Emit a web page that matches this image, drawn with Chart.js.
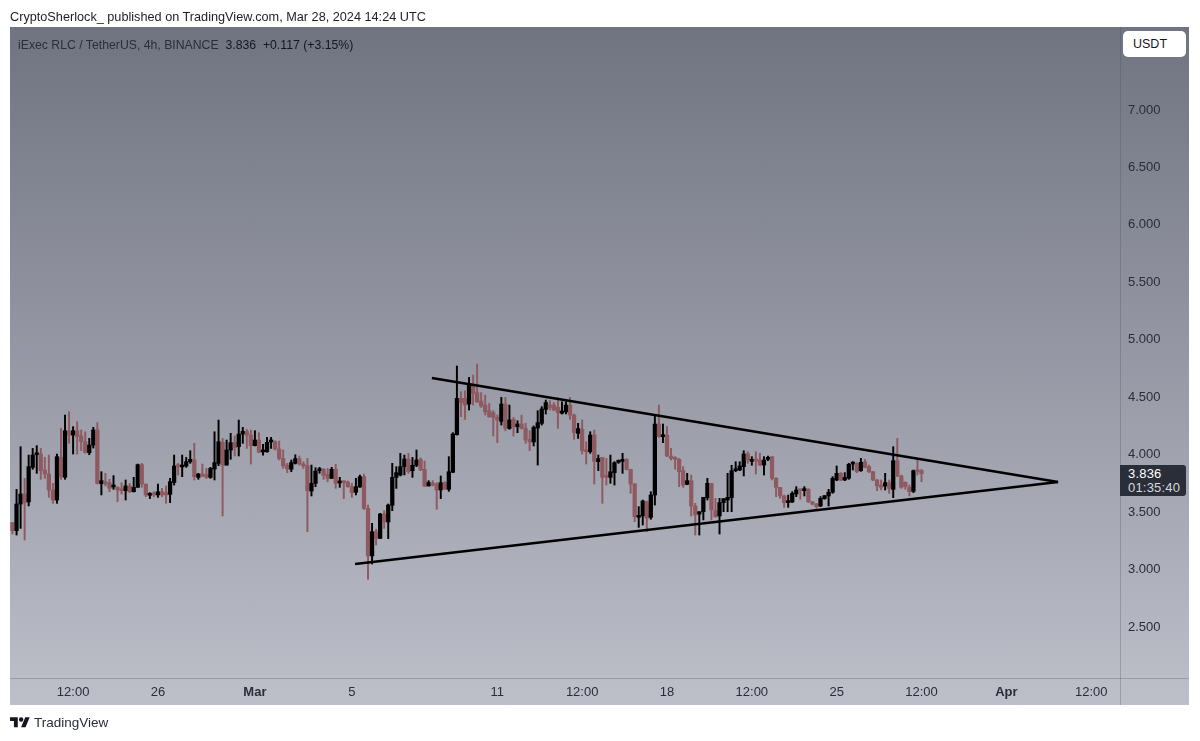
<!DOCTYPE html>
<html>
<head>
<meta charset="utf-8">
<title>iExec RLC / TetherUS</title>
<script src="https://cdn.jsdelivr.net/npm/chart.js@4/dist/chart.umd.min.js"></script>
<style>
  html, body { margin: 0; padding: 0; background: #fff; overflow: hidden; }
  body { width: 1200px; height: 741px; position: relative; font-family: "Liberation Sans", Arial, sans-serif; color: #131722; }
  #panel { position: absolute; left: 10px; top: 27px; width: 1179px; height: 678px;
           background: linear-gradient(to bottom, rgb(112,116,129), rgb(189,191,201)); }
  #hsep { position: absolute; left: 10px; top: 678px; width: 1179px; height: 1px; background: rgba(70,74,90,0.28); }
  #vsep { position: absolute; left: 1120px; top: 27px; width: 1px; height: 678px; background: rgba(70,74,90,0.28); }
  #chart { position: absolute; left: 0; top: 0; }
  .txt { position: absolute; white-space: pre; }
  #published { left: 10px; top: 10px; font-size: 12.7px; color: #1c1e24; }
  #legend { left: 18px; top: 38px; font-size: 12.25px; color: #2a2e39; }
  #legend b { font-weight: normal; color: #131722; }
  #unit { position: absolute; left: 1123px; top: 31px; width: 63px; height: 26px; line-height: 26px; background: #fff;
          border-radius: 5px; font-size: 12.5px; box-sizing: border-box; padding-left: 10px; color: #131722; }
  #last { position: absolute; left: 1120px; top: 465px; width: 66px; height: 31px; background: #2a2e39; border-radius: 0 3px 3px 0;
          font-size: 13px; line-height: 13.5px; letter-spacing: 0.2px; color: #fff; box-sizing: border-box; padding: 2px 0 0 8px; }
  #last span { color: #d6d8de; }
  #logo { position: absolute; left: 10px; top: 715px; width: 20px; height: 15.5px; }
  #brand { left: 34px; top: 715px; font-size: 13.5px; color: #2a2e39; }
</style>
</head>
<body>
<div id="panel"></div>
<div id="hsep"></div>
<div id="vsep"></div>
<canvas id="chart" width="1200" height="741"></canvas>
<div class="txt" id="published">CryptoSherlock_ published on TradingView.com, Mar 28, 2024 14:24 UTC</div>
<div class="txt" id="legend">iExec RLC / TetherUS, 4h, BINANCE  <b>3.836  +0.117 (+3.15%)</b></div>
<div id="unit">USDT</div>
<div id="last">3.836<br><span>01:35:40</span></div>
<svg id="logo" viewBox="0 0 36 28"><path fill="#131722" d="M14 22H7V11H0V4h14v18zM28 22h-8l7.5-18h8L28 22z"/><circle fill="#131722" cx="20" cy="8" r="4"/></svg>
<div class="txt" id="brand">TradingView</div>

<script>
// 4h candles
const opens = [
  3.409,3.339,3.571,3.658,3.589,3.890,4.000,4.006,3.867,3.832,
  3.693,3.606,3.977,3.803,4.206,4.171,4.209,4.163,4.113,4.018,
  4.084,4.215,3.748,3.765,3.757,3.719,3.716,3.693,3.687,3.728,
  3.678,3.716,3.913,3.745,3.647,3.664,3.650,3.678,3.670,3.655,
  3.757,3.910,3.893,3.902,3.939,3.954,3.803,3.832,3.829,3.803,
  3.876,3.925,4.108,3.910,4.041,4.105,4.070,4.180,4.203,4.171,
  4.079,4.128,4.024,4.026,4.111,4.113,4.050,3.966,3.910,3.873,
  3.925,3.966,3.919,3.905,3.684,3.751,3.861,3.873,3.832,3.794,
  3.873,3.754,3.763,3.763,3.722,3.673,3.719,3.809,3.533,3.119,
  3.330,3.272,3.484,3.415,3.560,3.803,3.824,3.896,3.960,3.861,
  3.908,3.960,3.873,3.728,3.751,3.745,3.693,3.760,3.699,3.847,
  4.174,4.490,4.490,4.441,4.615,4.540,4.467,4.432,4.383,4.366,
  4.325,4.290,4.441,4.229,4.308,4.244,4.267,4.229,4.134,4.111,
  4.232,4.273,4.395,4.432,4.432,4.412,4.360,4.372,4.432,4.345,
  4.186,4.221,4.041,4.026,4.171,3.939,3.977,3.809,3.803,3.844,
  3.934,3.942,3.960,3.873,3.745,3.455,3.467,3.591,3.455,3.649,
  4.267,4.157,4.171,3.989,3.977,3.960,3.861,3.742,3.774,3.554,
  3.484,3.504,3.626,3.751,3.513,3.467,3.583,3.606,3.626,3.861,
  3.867,3.896,4.006,3.942,3.954,3.954,3.910,3.960,3.983,3.795,
  3.716,3.641,3.583,3.589,3.658,3.693,3.687,3.699,3.591,3.571,
  3.554,3.618,3.641,3.673,3.780,3.838,3.780,3.795,3.919,3.925,
  3.861,3.939,3.896,3.852,3.780,3.736,3.728,3.757,3.699,3.948,
  3.815,3.760,3.716,3.681,3.861,3.861
];
const highs = [
  3.409,3.699,4.070,3.794,3.997,4.055,4.079,4.055,3.977,3.997,
  3.751,4.006,4.230,4.345,4.374,4.244,4.287,4.215,4.200,4.142,
  4.238,4.279,3.852,3.838,3.786,3.818,3.722,3.757,3.780,3.751,
  3.803,3.919,3.925,3.745,3.670,3.678,3.745,3.707,3.728,3.794,
  3.997,3.925,3.997,3.977,4.035,4.099,3.838,3.919,3.881,3.890,
  4.200,4.302,4.142,4.128,4.186,4.163,4.302,4.238,4.221,4.215,
  4.209,4.192,4.090,4.151,4.151,4.122,4.119,4.041,3.925,3.954,
  4.000,3.989,3.939,3.968,3.910,3.887,3.890,3.881,3.881,3.890,
  3.916,3.803,3.765,3.771,3.751,3.794,3.823,3.832,3.562,3.403,
  3.351,3.490,3.513,3.571,3.925,3.896,4.012,3.997,4.012,3.977,
  4.041,3.974,3.945,3.774,3.774,3.757,3.815,3.765,3.983,4.192,
  4.772,4.548,4.557,4.673,4.693,4.789,4.540,4.519,4.447,4.383,
  4.345,4.499,4.499,4.432,4.325,4.296,4.345,4.273,4.209,4.250,
  4.383,4.418,4.476,4.470,4.453,4.499,4.461,4.461,4.499,4.354,
  4.273,4.302,4.113,4.200,4.215,3.997,3.977,3.968,3.997,3.939,
  3.954,4.012,3.966,3.873,3.751,3.548,3.606,3.597,3.678,4.345,
  4.432,4.267,4.244,4.056,3.983,3.968,3.896,3.838,3.823,3.577,
  3.504,3.629,3.794,3.751,3.620,3.620,3.618,3.838,3.908,3.939,
  3.939,4.035,4.026,3.983,4.026,4.012,3.983,3.989,3.983,3.800,
  3.716,3.649,3.649,3.678,3.722,3.699,3.722,3.705,3.594,3.577,
  3.635,3.644,3.699,3.809,3.902,3.844,3.844,3.925,3.939,3.931,
  3.968,3.960,3.910,3.855,3.786,3.780,3.838,3.780,4.070,4.142,
  3.823,3.765,3.736,3.867,3.954,3.873
];
const lows = [
  3.310,3.301,3.359,3.258,3.554,3.873,3.838,3.786,3.794,3.629,
  3.577,3.577,3.786,3.786,4.099,4.006,4.006,4.035,4.012,4.000,
  4.058,3.745,3.650,3.728,3.678,3.699,3.591,3.658,3.606,3.670,
  3.676,3.716,3.716,3.635,3.618,3.635,3.629,3.635,3.577,3.583,
  3.736,3.823,3.809,3.890,3.925,3.780,3.786,3.809,3.794,3.794,
  3.780,3.905,3.467,3.908,3.960,3.989,3.989,4.099,4.055,3.919,
  4.076,4.018,3.997,4.021,4.055,4.041,3.954,3.881,3.844,3.852,
  3.919,3.910,3.881,3.330,3.641,3.722,3.838,3.786,3.765,3.792,
  3.707,3.716,3.618,3.716,3.629,3.650,3.716,3.525,2.916,3.049,
  3.214,3.270,3.359,3.270,3.513,3.707,3.815,3.824,3.838,3.803,
  3.896,3.861,3.722,3.728,3.728,3.525,3.618,3.699,3.681,3.844,
  4.171,4.331,4.308,4.389,4.432,4.453,4.412,4.345,4.325,4.163,
  4.105,4.258,4.209,4.221,4.163,4.192,4.224,4.099,4.035,4.076,
  3.910,4.258,4.354,4.389,4.383,4.229,4.354,4.354,4.308,4.134,
  4.142,4.006,3.919,4.012,3.745,3.861,3.577,3.736,3.751,3.736,
  3.925,3.838,3.867,3.664,3.417,3.368,3.388,3.330,3.438,3.562,
  4.151,4.105,3.983,3.954,3.873,3.722,3.716,3.739,3.467,3.301,
  3.301,3.432,3.606,3.432,3.455,3.310,3.504,3.504,3.504,3.852,
  3.861,3.815,3.925,3.908,3.832,3.905,3.823,3.948,3.780,3.635,
  3.620,3.542,3.542,3.583,3.635,3.612,3.641,3.583,3.562,3.533,
  3.548,3.612,3.554,3.664,3.774,3.774,3.774,3.786,3.867,3.844,
  3.855,3.887,3.844,3.774,3.687,3.693,3.693,3.664,3.626,3.809,
  3.707,3.699,3.641,3.670,3.824,3.765
];
const closes = [
  3.339,3.571,3.658,3.583,3.896,3.997,4.009,3.861,3.832,3.693,
  3.606,3.983,3.809,4.209,4.171,4.209,4.157,4.113,4.021,4.084,
  4.215,3.751,3.774,3.745,3.707,3.728,3.693,3.687,3.728,3.678,
  3.716,3.913,3.745,3.650,3.655,3.650,3.678,3.650,3.650,3.765,
  3.902,3.896,3.902,3.939,3.960,3.809,3.832,3.815,3.803,3.881,
  3.931,4.113,3.910,4.041,4.105,4.061,4.180,4.203,4.171,4.079,
  4.128,4.021,4.035,4.108,4.119,4.050,3.966,3.902,3.876,3.931,
  3.966,3.919,3.902,3.687,3.751,3.858,3.873,3.818,3.792,3.873,
  3.751,3.765,3.757,3.722,3.670,3.722,3.809,3.533,3.119,3.330,
  3.270,3.484,3.415,3.562,3.803,3.844,3.896,3.963,3.852,3.908,
  3.954,3.867,3.728,3.757,3.736,3.693,3.757,3.699,3.852,4.180,
  4.490,4.453,4.432,4.615,4.534,4.461,4.424,4.374,4.331,4.325,
  4.302,4.441,4.229,4.302,4.244,4.267,4.229,4.128,4.111,4.238,
  4.279,4.398,4.453,4.412,4.389,4.366,4.380,4.432,4.345,4.192,
  4.227,4.035,4.026,4.171,3.942,3.966,3.803,3.803,3.852,3.931,
  3.945,3.960,3.873,3.745,3.461,3.467,3.597,3.446,3.649,4.267,
  4.157,4.171,3.989,3.968,3.960,3.852,3.736,3.774,3.554,3.476,
  3.504,3.629,3.751,3.519,3.461,3.583,3.618,3.629,3.861,3.873,
  3.902,4.006,3.954,3.954,3.945,3.910,3.954,3.971,3.795,3.716,
  3.641,3.583,3.591,3.664,3.693,3.687,3.699,3.591,3.571,3.548,
  3.620,3.644,3.673,3.795,3.838,3.780,3.803,3.916,3.925,3.852,
  3.934,3.890,3.852,3.780,3.728,3.716,3.757,3.707,3.948,3.815,
  3.716,3.722,3.678,3.861,3.852,3.836
];

// time axis: candle number -> label
const timeTicks = [15, 36, 60, 84, 120, 141, 162, 183, 204, 225, 246, 267];
const timeLabels = ['12:00', '26', 'Mar', '5', '11', '12:00', '18', '12:00', '25', '12:00', 'Apr', '12:00'];
const priceTicks = [2.5, 3.0, 3.5, 4.0, 4.5, 5.0, 5.5, 6.0, 6.5, 7.0];

// triangle drawn on the chart, candle number / price
const upperLineX = [103.8, 258.8];
const upperLineY = [4.667, 3.762];
const lowerLineX = [84.8, 258.8];
const lowerLineY = [3.049, 3.762];

const upColor = '#000000';
const downColor = '#8e5a60';
const candleColors = opens.map((o, i) => (closes[i] >= o ? upColor : downColor));

new Chart(document.getElementById('chart'), {
  type: 'bar',
  data: {
    datasets: [
      {
        type: 'line',
        order: 0,
        data: upperLineX.map((x, i) => ({ x: x, y: upperLineY[i] })),
        borderColor: '#000',
        borderWidth: 2.5,
        pointRadius: 0
      },
      {
        type: 'line',
        order: 0,
        data: lowerLineX.map((x, i) => ({ x: x, y: lowerLineY[i] })),
        borderColor: '#000',
        borderWidth: 2.5,
        pointRadius: 0
      },
      {
        order: 1,
        data: opens.map((o, i) => ({ x: i, y: [o, closes[i]] })),
        backgroundColor: candleColors,
        barThickness: 3.6,
        minBarLength: 2,
        grouped: false
      },
      {
        order: 2,
        data: opens.map((o, i) => ({ x: i, y: [lows[i], highs[i]] })),
        backgroundColor: candleColors,
        barThickness: 1.3,
        grouped: false
      }
    ]
  },
  options: {
    responsive: false,
    animation: false,
    events: [],
    layout: { padding: { left: 10, right: 11, top: 27, bottom: 36 } },
    plugins: { legend: { display: false }, tooltip: { enabled: false } },
    scales: {
      x: {
        type: 'linear',
        offset: false,
        min: -0.62,
        max: 274.13,
        grid: { display: false, offset: false, drawTicks: false },
        border: { display: false },
        afterBuildTicks: scale => { scale.ticks = timeTicks.map(v => ({ value: v })); },
        afterFit: scale => { scale.height = 27; },
        ticks: {
          autoSkip: false,
          maxRotation: 0,
          padding: 7,
          color: '#2a2e39',
          font: ctx => ({
            family: '"Liberation Sans", Arial, sans-serif',
            size: 13,
            weight: ['Mar', 'Apr'].includes(timeLabels[ctx.index]) ? 'bold' : 'normal'
          }),
          callback: (v, i) => timeLabels[i]
        }
      },
      y: {
        position: 'right',
        min: 2.057,
        max: 7.722,
        grid: { display: false, drawTicks: false },
        border: { display: false },
        afterBuildTicks: scale => { scale.ticks = priceTicks.map(v => ({ value: v })); },
        afterFit: scale => { scale.width = 69; },
        ticks: {
          autoSkip: false,
          padding: 8,
          color: '#2a2e39',
          font: { family: '"Liberation Sans", Arial, sans-serif', size: 13 },
          callback: v => v.toFixed(3)
        }
      }
    }
  }
});
</script>
</body>
</html>
